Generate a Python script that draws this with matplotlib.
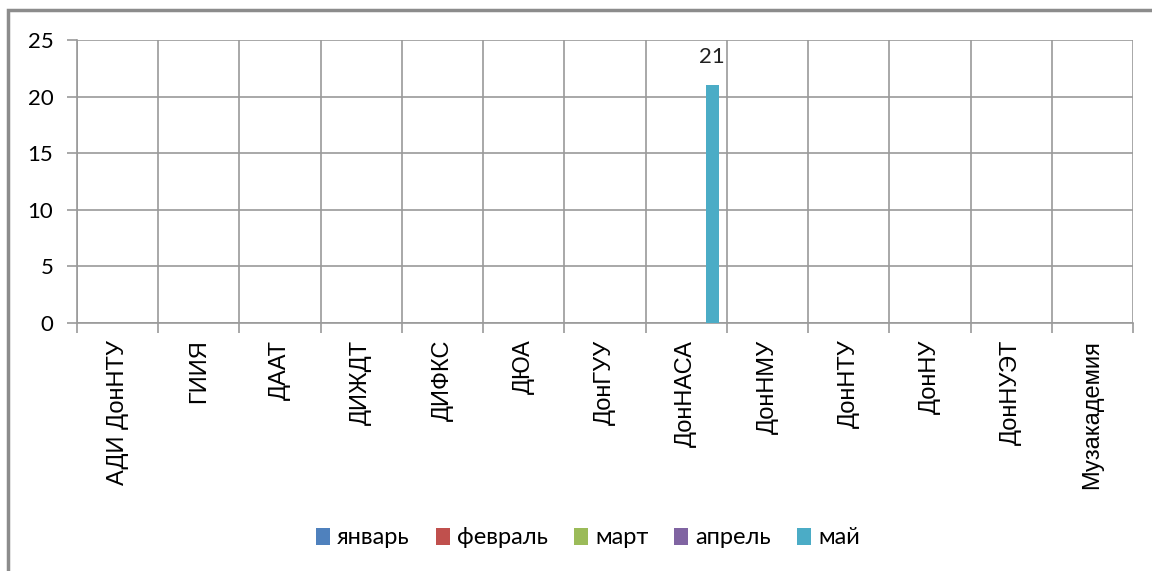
import matplotlib.pyplot as plt
import numpy as np
from matplotlib.patches import Rectangle

# категории (вузы)
categories = ['АДИ ДонНТУ', 'ГИИЯ', 'ДААТ', 'ДИЖДТ', 'ДИФКС', 'ДЮА', 'ДонГУУ',
              'ДонНАСА', 'ДонНМУ', 'ДонНТУ', 'ДонНУ', 'ДонНУЭТ', 'Музакадемия']
months = ['январь', 'февраль', 'март', 'апрель', 'май']
jan = [0, 0, 0, 0, 0, 0, 0, 0, 0, 0, 0, 0, 0]
feb = [0, 0, 0, 0, 0, 0, 0, 0, 0, 0, 0, 0, 0]
mar = [0, 0, 0, 0, 0, 0, 0, 0, 0, 0, 0, 0, 0]
apr = [0, 0, 0, 0, 0, 0, 0, 0, 0, 0, 0, 0, 0]
may = [0, 0, 0, 0, 0, 0, 0, 21, 0, 0, 0, 0, 0]
colors = ['#4F81BD', '#C0504D', '#9BBB59', '#8064A2', '#4BACC6']

W, H = 1152, 571
fig = plt.figure(figsize=(W / 100, H / 100), dpi=100)
ax = fig.add_axes([77 / W, 1 - 323 / H, (1133 - 77) / W, (323 - 40) / H])

grid_c = '#9A9A9A'
x = np.arange(len(categories))
bw = 0.16
series = [jan, feb, mar, apr, may]
for i, (vals, name, c) in enumerate(zip(series, months, colors)):
    bars = ax.bar(x + (i - 2) * bw, vals, bw, color=c, label=name, zorder=3)
    labels = [str(v) if v else '' for v in vals]
    ax.bar_label(bars, labels=labels, padding=13, fontsize=16,
                 family='Lato', color='#222222')

ax.set_xlim(-0.5, len(categories) - 0.5)
ax.set_ylim(0, 25)
ax.set_yticks(range(0, 26, 5))
ax.set_xticks(x)
ax.set_xticklabels(categories, rotation=90, family='Liberation Sans', fontsize=17)
ax.set_xticks(np.arange(-0.5, len(categories), 1), minor=True)
ax.tick_params(axis='x', which='major', length=0, pad=12)
ax.tick_params(axis='x', which='minor', length=7, color=grid_c, width=1.2)
ax.tick_params(axis='y', length=7, color=grid_c, width=1.2, pad=10, labelsize=16)
for lab in ax.get_yticklabels():
    lab.set_family('Lato')
ax.grid(axis='y', color=grid_c, lw=1.2, zorder=0)
ax.grid(axis='x', which='minor', color=grid_c, lw=1.2, zorder=0)
for s in ['top', 'right']:
    ax.spines[s].set_visible(False)
for s in ['left', 'bottom']:
    ax.spines[s].set_color(grid_c)
    ax.spines[s].set_linewidth(1.2)

# рамка области диаграммы
fig.patches.append(Rectangle((8 / W, -0.1), 1.2, 1 - 10 / H + 0.1,
                             transform=fig.transFigure, fill=False,
                             edgecolor='#8C8C8C', lw=2.5))

leg = fig.legend(loc='center', bbox_to_anchor=(588 / W, 1 - 538 / H), ncol=5,
                 frameon=False, prop={'family': 'Lato', 'size': 17},
                 handlelength=0.6, handleheight=0.7, handletextpad=0.3,
                 columnspacing=1.1)

fig.savefig('out.png', dpi=100)
